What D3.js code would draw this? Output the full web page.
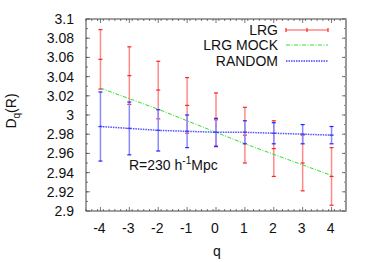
<!DOCTYPE html>
<html>
<head>
<meta charset="utf-8">
<script src="https://cdn.jsdelivr.net/npm/d3@7"></script>
<style>
  body { margin: 0; background: #fff; }
  text { font-family: "Liberation Sans", Arial, sans-serif; fill: #111; }
</style>
</head>
<body>
<div class="container"></div>
<script>
const qValues = [-4, -3, -2, -1, 0, 1, 2, 3, 4];
const lrgMean = [3.058, 3.041, 3.026, 3.010, 2.995, 2.979, 2.965, 2.950, 2.936];
const lrgErr = [0.031, 0.030, 0.030, 0.029, 0.028, 0.029, 0.029, 0.029, 0.030];
const mockValues = [3.028, 3.017, 3.006, 2.994, 2.982, 2.970, 2.959, 2.948, 2.937];
const randomMean = [2.988, 2.986, 2.984, 2.983, 2.982, 2.982, 2.981, 2.980, 2.979];
const randomErr = [0.036, 0.0275, 0.0215, 0.017, 0.0145, 0.012, 0.011, 0.010, 0.009];
const yTicks = [2.9, 2.92, 2.94, 2.96, 2.98, 3, 3.02, 3.04, 3.06, 3.08, 3.1];
const seriesNames = ["LRG", "LRG MOCK", "RANDOM"];

const margin = {top: 19, right: 28, bottom: 51, left: 86},
      W = 374, H = 262,
      width = W - margin.left - margin.right,
      height = H - margin.top - margin.bottom;

const svg = d3.select(".container").append("svg")
    .attr("width", W).attr("height", H);

const chart = svg.append("g")
    .attr("transform", "translate(" + margin.left + "," + margin.top + ")");

const xScale = d3.scaleLinear().domain([-4.5, 4.5]).range([0, width]);
const yScale = d3.scaleLinear().domain([2.9, 3.1]).range([height, 0]);

// ticks, inside the frame, on all four sides
const xMinor = d3.range(-45, 46, 2).map(d => d / 10).filter(d => Math.abs(d * 10 % 10) > 0.01);
const yMinor = d3.range(291, 310).map(d => d / 100);
const tickColor = "#555";

function ticks(vals, len, isX) {
  vals.forEach(function(v) {
    if (isX) {
      const x = xScale(v);
      chart.append("line").attr("x1", x).attr("x2", x).attr("y1", height).attr("y2", height - len);
      chart.append("line").attr("x1", x).attr("x2", x).attr("y1", 0).attr("y2", len);
    } else {
      const y = yScale(v);
      chart.append("line").attr("x1", 0).attr("x2", len).attr("y1", y).attr("y2", y);
      chart.append("line").attr("x1", width).attr("x2", width - len).attr("y1", y).attr("y2", y);
    }
  });
}
const tg = chart.append("g");
ticks(xMinor, 2, true);
ticks(qValues, 4, true);
ticks(yMinor, 2, false);
ticks(yTicks, 4, false);
chart.selectAll("line").attr("stroke", tickColor).attr("stroke-width", 0.8);

// frame
chart.append("rect").attr("width", width).attr("height", height)
    .attr("fill", "none").attr("stroke", "#444").attr("stroke-width", 1);
chart.append("line").attr("x1", width).attr("x2", width).attr("y1", 0).attr("y2", height + 0.5)
    .attr("stroke", "#999").attr("stroke-width", 2);

// tick labels
chart.selectAll(".ylab").data(yTicks).enter().append("text")
    .attr("x", -12).attr("y", d => yScale(d) + 5)
    .attr("text-anchor", "end").attr("font-size", "14px")
    .text(d => d3.format("")(+d.toFixed(2)));

chart.selectAll(".xlab").data(qValues).enter().append("text")
    .attr("x", d => xScale(d) - 1).attr("y", height + 22)
    .attr("text-anchor", "middle").attr("font-size", "14px")
    .text(d => d);

svg.append("text").attr("x", margin.left + width / 2 + 1).attr("y", 256)
    .attr("text-anchor", "middle").attr("font-size", "14px").text("q");

const ylab = svg.append("text")
    .attr("transform", "translate(16," + (margin.top + height / 2 - 4) + ") rotate(-90)")
    .attr("text-anchor", "middle").attr("font-size", "14px");
ylab.append("tspan").text("D");
ylab.append("tspan").attr("font-size", "10px").attr("dy", 4).text("q");
ylab.append("tspan").attr("dy", -4).text("(R)");

// error bar helper
function errorBars(means, errs, lineColor, tickCol) {
  const g = chart.append("g");
  qValues.forEach(function(q, i) {
    const x = xScale(q);
    const y0 = yScale(means[i] - errs[i]), y1 = yScale(means[i] + errs[i]), ym = yScale(means[i]);
    g.append("line").attr("x1", x).attr("x2", x).attr("y1", y0).attr("y2", y1)
        .attr("stroke", lineColor).attr("stroke-width", 1.5);
    [y0, y1, ym].forEach(function(y) {
      g.append("line").attr("x1", x - 2).attr("x2", x + 2).attr("y1", y).attr("y2", y)
          .attr("stroke", tickCol).attr("stroke-width", 1.2);
    });
  });
}

const lineGen = d3.line().x((d, i) => xScale(qValues[i])).y(d => yScale(d));

// LRG
errorBars(lrgMean, lrgErr, "#ff8a8a", "#f22");

// LRG MOCK
chart.append("path").datum(mockValues).attr("d", lineGen)
    .attr("fill", "none").attr("stroke", "#33dd33").attr("stroke-width", 1)
    .attr("stroke-dasharray", "4,1.5,1,1.5");

// RANDOM
errorBars(randomMean, randomErr, "#8a8aff", "#22f");
chart.append("path").datum(randomMean).attr("d", lineGen)
    .attr("fill", "none").attr("stroke", "#5050ff").attr("stroke-width", 1.5)
    .attr("stroke-dasharray", "1.5,1");

// legend
const legendX1 = 286 - margin.left, legendX2 = 328 - margin.left;
const legendY = [30, 45, 61].map(d => d - margin.top);
const leg = chart.append("g");
seriesNames.forEach(function(name, i) {
  leg.append("text").attr("x", 278 - margin.left).attr("y", legendY[i] + 5)
      .attr("text-anchor", "end").attr("font-size", "14px").text(name);
});
leg.append("line").attr("x1", legendX1).attr("x2", legendX2).attr("y1", legendY[0]).attr("y2", legendY[0])
    .attr("stroke", "#ff8a8a").attr("stroke-width", 1.5);
[legendX1, (legendX1 + legendX2) / 2, legendX2].forEach(function(x) {
  leg.append("line").attr("x1", x).attr("x2", x).attr("y1", legendY[0] - 2).attr("y2", legendY[0] + 2)
      .attr("stroke", "#f22").attr("stroke-width", 1.2);
});
leg.append("line").attr("x1", legendX1).attr("x2", legendX2).attr("y1", legendY[1]).attr("y2", legendY[1])
    .attr("stroke", "#33dd33").attr("stroke-width", 1).attr("stroke-dasharray", "4,1.5,1,1.5");
leg.append("line").attr("x1", legendX1).attr("x2", legendX2).attr("y1", legendY[2]).attr("y2", legendY[2])
    .attr("stroke", "#7070ff").attr("stroke-width", 2).attr("stroke-dasharray", "1.5,1");

// annotation
const ann = svg.append("text").attr("x", 129).attr("y", 170).attr("font-size", "14px");
ann.append("tspan").text("R=230 h");
ann.append("tspan").attr("font-size", "10px").attr("dy", -6).text("-1");
ann.append("tspan").attr("dy", 6).text("Mpc");
</script>
</body>
</html>
